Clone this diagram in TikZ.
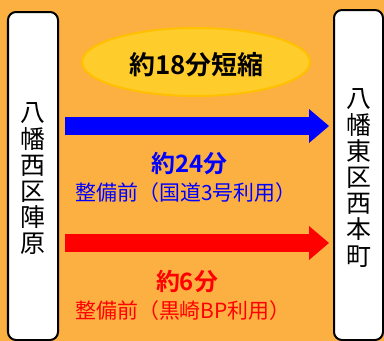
\documentclass[tikz,border=0pt]{standalone}
\usepackage{fontspec}
\newfontfamily\jp{Noto Sans CJK JP}[BoldFont={Noto Sans CJK JP Bold}]
\usetikzlibrary{arrows.meta,shapes.geometric}
\definecolor{bgorange}{RGB}{253,176,66}
\definecolor{ellfill}{RGB}{255,205,43}
\definecolor{elldraw}{RGB}{255,192,0}
\begin{document}
\begin{tikzpicture}[x=1bp,y=-1bp,
  place/.style={draw=black,line width=2bp,fill=white,rounded corners=8bp},
  vtext/.style={font=\jp\fontsize{25}{26.3}\selectfont,align=center,inner sep=0pt},
  bigarrow/.style={line width=18bp,-{Triangle[length=20bp,width=34bp,line width=0pt]}},
  timebig/.style={font=\jp\bfseries\fontsize{24}{26}\selectfont,inner sep=0pt},
  timesmall/.style={font=\jp\fontsize{21}{23}\selectfont,inner sep=0pt}]
\fill[bgorange] (0,0) rectangle (384,341);
\useasboundingbox (0,0) rectangle (384,341);
% boxes
\draw[place] (8,12) rectangle (58,340);
\draw[place] (334,10) rectangle (383,340);
\node[vtext] (from) at (33,179) {八\\幡\\西\\区\\陣\\原};
\node[vtext] (to) at (359,178) {八\\幡\\東\\区\\西\\本\\町};
% ellipse
\node[draw=elldraw,line width=2bp,fill=ellfill,ellipse,minimum width=228bp,minimum height=68bp,inner sep=0pt] (ell) at (196,62) {};
\node[font=\jp\bfseries\fontsize{26}{28}\selectfont,inner sep=0pt] (save) at (196.5,64.5) {約18分短縮};
% arrows
\coordinate (b1) at (65,126);
\coordinate (b2) at (329,126);
\coordinate (r1) at (65,243);
\coordinate (r2) at (329,243);
\draw[bigarrow,blue] (b1) -- (b2);
\draw[bigarrow,red] (r1) -- (r2);
% labels
\node[timebig,text=blue] (t1) at (189.5,163.5) {約24分};
\node[timesmall,text=blue] (s1) at (186,192.5) {整備前（国道3号利用）};
\node[timebig,text=red] (t2) at (187,281.5) {約6分};
\node[timesmall,text=red] (s2) at (183,310.5) {整備前（黒崎BP利用）};
\end{tikzpicture}
\end{document}
